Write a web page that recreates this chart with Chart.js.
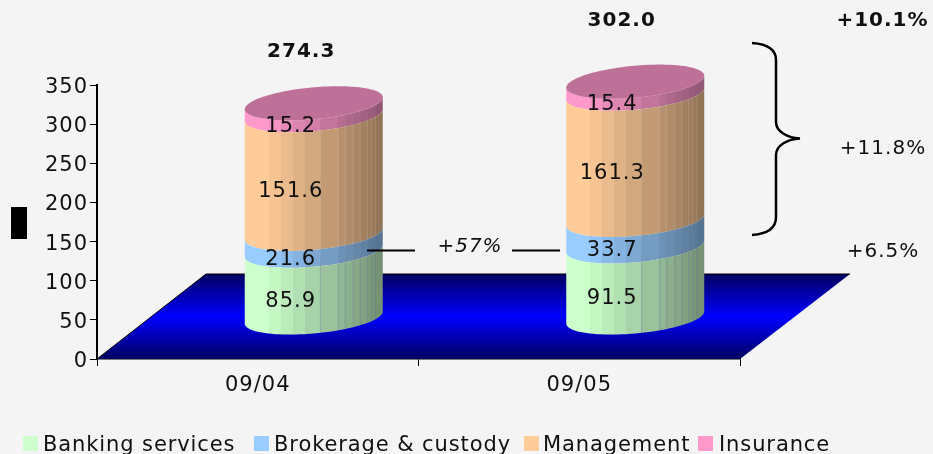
<!DOCTYPE html>
<html>
<head>
<meta charset="utf-8">
<style>html,body{margin:0;padding:0;background:#F4F4F4}#w{width:933px;height:454px}</style>
<script src="https://cdn.jsdelivr.net/npm/chart.js@4/dist/chart.umd.min.js"></script>
</head>
<body>
<div id="w"><canvas id="c" width="933" height="454"></canvas></div>
<script>
const categories = ['09/04', '09/05'];
const banking = [85.9, 91.5];
const brokerage = [21.6, 33.7];
const management = [151.6, 161.3];
const insurance = [15.2, 15.4];
const totals = ['274.3', '302.0'];
const seriesNames = ['Banking services', 'Brokerage & custody', 'Management', 'Insurance'];
const yMax = 350, yStep = 50;

const FONT = 'DejaVu Sans';
const COLORS = ['#CCFFCC', '#99CCFF', '#FFCC99', '#FF99CC'];
const CAP = '#BE7098';
const DX = 56, DY = -41;          // 3D depth offset of the cylinders
const RX = 69, RY = 16, TILT = 6; // ellipse shape
const FACETS = [0, 12, 24, 36, 48, 60, 75, 93, 100, 108, 115, 122, 126, 130, 138];
const SEAMS = [75, 93, 100, 108, 115, 122, 126, 130];

function ell(cx, cy, t) {
  return [cx + RX * Math.cos(t), cy + RY * Math.sin(t) - TILT * Math.cos(t)];
}
function shade(hex, k) {
  const n = parseInt(hex.slice(1), 16);
  return `rgb(${(n >> 16 & 255) * k | 0},${(n >> 8 & 255) * k | 0},${(n & 255) * k | 0})`;
}
Chart.BarElement.prototype.draw = function (ctx) {
  const p = this.getProps(['x', 'y', 'base'], true);
  const cx = p.x + DX, top = p.y + DY, bot = p.base + DY;
  const color = this.options.backgroundColor;
  const ds = COLORS.indexOf(color);
  const S = 48;
  ctx.save();
  ctx.beginPath();
  for (let i = 0; i <= S; i++) {
    const q = ell(cx, bot, Math.PI - Math.PI * i / S);
    i ? ctx.lineTo(q[0], q[1]) : ctx.moveTo(q[0], q[1]);
  }
  for (let i = 0; i <= S; i++) {
    const q = ell(cx, top, Math.PI * i / S);
    ctx.lineTo(q[0], q[1]);
  }
  ctx.closePath();
  const left = cx - RX, W = RX * 2;
  const g = ctx.createLinearGradient(left, 0, left + W, 0);
  for (let i = 0; i < FACETS.length - 1; i++) {
    const u = (FACETS[i] + FACETS[i + 1]) / 2 / W;
    const k = u < 0.15 ? 1 : 1 - 0.44 * (u - 0.15) / 0.85;
    const c = shade(color, k);
    g.addColorStop(FACETS[i] / W, c);
    g.addColorStop(FACETS[i + 1] / W, c);
  }
  ctx.fillStyle = g;
  ctx.fill();
  ctx.clip();
  ctx.lineWidth = 1;
  ctx.strokeStyle = ds === 0 ? 'rgba(90,110,170,0.28)' : ds === 2 ? 'rgba(255,255,255,0.16)' : 'rgba(255,255,255,0.05)';
  SEAMS.forEach(s => {
    ctx.beginPath();
    ctx.moveTo(left + s + 0.5, top - 30);
    ctx.lineTo(left + s + 0.5, bot + 30);
    ctx.stroke();
  });
  ctx.restore();
  if (ds === seriesNames.length - 1) {
    ctx.save();
    ctx.beginPath();
    for (let i = 0; i < 96; i++) {
      const q = ell(cx, top, Math.PI * 2 * i / 96);
      i ? ctx.lineTo(q[0], q[1]) : ctx.moveTo(q[0], q[1]);
    }
    ctx.closePath();
    ctx.fillStyle = CAP;
    ctx.fill();
    ctx.restore();
  }
};

// value-axis numbers sit slightly lower than the tick marks in the reference
const baseDrawLabels = Chart.LinearScale.prototype.drawLabels;
Chart.LinearScale.prototype.drawLabels = function (area) {
  this.ctx.save();
  this.ctx.translate(0, 2.5);
  baseDrawLabels.call(this, area);
  this.ctx.restore();
};

function txt(ctx, s, x, y, font, align) {
  ctx.font = font;
  ctx.fillStyle = '#111';
  ctx.textAlign = align || 'center';
  ctx.textBaseline = 'middle';
  ctx.fillText(s, x, y);
}

const scenePlugin = {
  id: 'scene',
  beforeUpdate(chart) { chart.ctx.letterSpacing = '1px'; },
  beforeDraw(chart) {
    const { ctx } = chart;
    ctx.letterSpacing = '1px';
    ctx.save();
    ctx.fillStyle = '#F4F4F4';
    ctx.fillRect(0, 0, chart.width, chart.height);
    ctx.fillStyle = '#000';
    ctx.fillRect(11, 207, 16, 32);
    ctx.restore();
  },
  beforeDatasetsDraw(chart) {
    const { ctx, chartArea: a } = chart;
    const dx = 110, dy = 85;
    const g = ctx.createLinearGradient(0, a.bottom - dy, 0, a.bottom);
    g.addColorStop(0, '#000060');
    g.addColorStop(0.5, '#0000FF');
    g.addColorStop(1, '#000060');
    ctx.save();
    ctx.beginPath();
    ctx.moveTo(a.left, a.bottom);
    ctx.lineTo(a.left + dx - 1, a.bottom - dy);
    ctx.lineTo(a.right + dx, a.bottom - dy);
    ctx.lineTo(a.right, a.bottom);
    ctx.closePath();
    ctx.fillStyle = g;
    ctx.fill();
    ctx.beginPath();
    ctx.moveTo(a.left, a.bottom);
    ctx.lineTo(a.left + dx - 1, a.bottom - dy);
    ctx.lineTo(a.right + dx, a.bottom - dy);
    ctx.strokeStyle = '#000';
    ctx.lineWidth = 1;
    ctx.stroke();
    ctx.restore();
  },
  afterDatasetsDraw(chart) {
    const { ctx } = chart;
    ctx.save();
    const f = `21px "${FONT}"`;
    chart.data.datasets.forEach((d, di) => {
      const meta = chart.getDatasetMeta(di);
      meta.data.forEach((el, i) => {
        const p = el.getProps(['x', 'y', 'base'], true);
        txt(ctx, d.data[i].toFixed(1), p.x + 33, (p.y + p.base) / 2 - 24, f);
      });
    });
    const m = chart.getDatasetMeta(0).data;
    const totalY = [52, 21], totalDx = [43.5, 42.5];
    totals.forEach((t, i) => txt(ctx, t, m[i].getProps(['x'], true).x + totalDx[i], totalY[i], `bold 20px "${FONT}"`));
    txt(ctx, '+10.1%', 882.5, 21, `bold 20px "${FONT}"`);
    txt(ctx, '+11.8%', 883, 149, `20px "${FONT}"`);
    txt(ctx, '+6.5%', 883, 252, `20px "${FONT}"`);
    txt(ctx, '+57%', 470, 247, `italic 20px "${FONT}"`);
    ctx.strokeStyle = '#000';
    ctx.lineWidth = 2;
    ctx.beginPath();
    ctx.moveTo(367, 250.5); ctx.lineTo(415, 250.5);
    ctx.moveTo(512, 250.5); ctx.lineTo(560, 250.5);
    ctx.stroke();
    ctx.lineWidth = 2.5;
    ctx.beginPath();
    ctx.moveTo(752, 43);
    ctx.bezierCurveTo(766, 44, 776, 48, 776, 60);
    ctx.lineTo(776, 122);
    ctx.bezierCurveTo(776, 132, 788, 138, 800, 138.5);
    ctx.bezierCurveTo(788, 139, 776, 145, 776, 155);
    ctx.lineTo(776, 217);
    ctx.bezierCurveTo(776, 229, 766, 234, 752, 235);
    ctx.stroke();
    ctx.restore();
  },
  afterDraw(chart) {
    const { ctx } = chart;
    const boxX = [23, 254, 524, 698], textX = [43, 274, 543, 719];
    ctx.save();
    ctx.letterSpacing = '0.9px';
    seriesNames.forEach((name, i) => {
      ctx.fillStyle = COLORS[i];
      ctx.fillRect(boxX[i], 436, 15, 15);
      txt(ctx, name, textX[i], 446, `21px "${FONT}"`, 'left');
    });
    ctx.restore();
  }
};

const series = [banking, brokerage, management, insurance];
new Chart(document.getElementById('c'), {
  type: 'bar',
  data: {
    labels: categories,
    datasets: series.map((v, i) => ({
      label: seriesNames[i],
      data: v,
      backgroundColor: COLORS[i],
      barThickness: 138,
      clip: false
    }))
  },
  plugins: [scenePlugin],
  options: {
    responsive: false,
    animation: false,
    layout: { padding: { left: 0, right: 193, top: 85, bottom: 0 } },
    plugins: {
      tooltip: { enabled: false },
      legend: { display: false }
    },
    scales: {
      x: {
        stacked: true,
        afterFit(s) { s.height = 95; },
        grid: { drawOnChartArea: false, color: '#000', tickLength: 7, tickColor: '#000' },
        border: { color: '#000', width: 1.5 },
        ticks: { color: '#111', padding: 7, font: { family: FONT, size: 21 }, maxRotation: 0 }
      },
      y: {
        stacked: true,
        min: 0,
        max: yMax,
        afterFit(s) { s.width = 97; },
        grid: { drawOnChartArea: false, color: '#000', tickLength: 7, tickColor: '#000' },
        border: { color: '#000', width: 2 },
        ticks: { stepSize: yStep, color: '#111', padding: 2, font: { family: FONT, size: 21 } }
      }
    }
  }
});
</script>
</body>
</html>
